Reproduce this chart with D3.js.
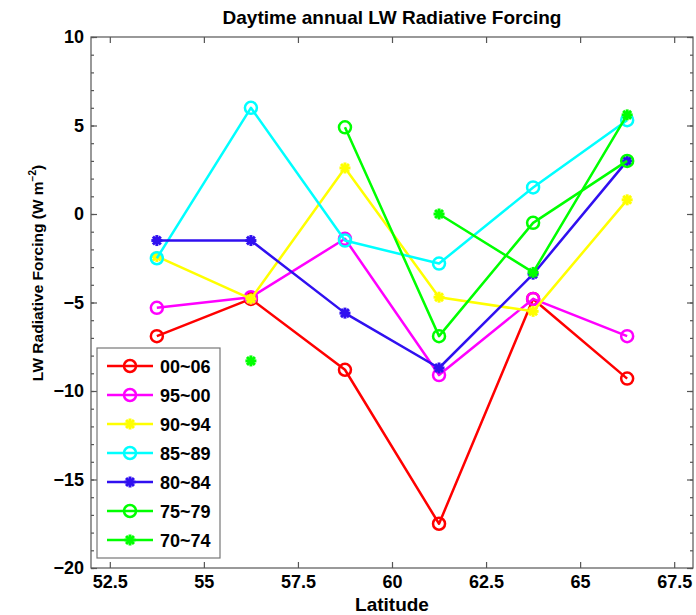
<!DOCTYPE html>
<html><head><meta charset="utf-8">
<script src="https://cdn.jsdelivr.net/npm/d3@7"></script>
<style>
body{margin:0;background:#fff}
text{font-family:"Liberation Sans",Arial,Helvetica,sans-serif;font-weight:bold;fill:#000}
</style>
</head><body><svg id="chart" width="696" height="615"></svg>
<script>
// ---- data ----
const latitudes = [53.75, 56.25, 58.75, 61.25, 63.75, 66.25];
const seriesNames = ["00~06", "95~00", "90~94", "85~89", "80~84", "75~79", "70~74"];
const s00_06 = [-6.9, -4.8, -8.8, -17.5, -4.8, -9.3];
const s95_00 = [-5.3, -4.7, -1.4, -9.1, -4.8, -6.9];
const s90_94 = [-2.4, -4.8, 2.6, -4.7, -5.5, 0.8];
const s85_89 = [-2.5, 6.0, -1.5, -2.8, 1.5, 5.3];
const s80_84 = [-1.5, -1.5, -5.6, -8.7, -3.4, 3.0];
const s75_79 = [null, null, 4.9, -6.9, -0.5, 3.0];
const s70_74 = [null, -8.3, null, 0.0, -3.3, 5.6];
const seriesValues = [s00_06, s95_00, s90_94, s85_89, s80_84, s75_79, s70_74];
const seriesColors = ["#ff0000", "#ff00ff", "#ffff00", "#00ffff", "#3010f0", "#00ff00", "#00ff00"];
const seriesMarkers = ["circle", "circle", "star", "circle", "star", "circle", "star"];
const xTicks = [52.5, 55, 57.5, 60, 62.5, 65, 67.5];
const yTicks = [-20, -15, -10, -5, 0, 5, 10];
const yMinorTicks = d3.range(-20, 11, 1);

// ---- layout ----
const svg = d3.select("#chart");
const L = 91, R = 693, T = 37, B = 568;
const x = d3.scaleLinear().domain([52, 68]).range([L, R]);
const y = d3.scaleLinear().domain([-20, 10]).range([B, T]);
const axisColor = "#555";

// frame
svg.append("rect").attr("x", L).attr("y", T).attr("width", R - L).attr("height", B - T)
  .attr("fill", "none").attr("stroke", axisColor).attr("stroke-width", 1.2);

const fmtX = d => String(d);
const fmtY = d => d < 0 ? "\u2212" + Math.abs(d) : String(d);

function styleAxis(g, showLabels) {
  g.select(".domain").remove();
  g.selectAll(".tick line").attr("stroke", axisColor).attr("stroke-width", 1.2);
  g.selectAll(".tick text").attr("fill", "#000").style("font-size", "18px").style("font-weight", "bold")
    .style("font-family", '"Liberation Sans",Arial,sans-serif');
  if (!showLabels) g.selectAll(".tick text").remove();
}

// minor y ticks
svg.append("g").attr("transform", `translate(${L},0)`)
  .call(d3.axisLeft(y).tickValues(yMinorTicks).tickSize(-3).tickFormat(""))
  .call(g => styleAxis(g, false));
svg.append("g").attr("transform", `translate(${R},0)`)
  .call(d3.axisRight(y).tickValues(yMinorTicks).tickSize(-3).tickFormat(""))
  .call(g => styleAxis(g, false));
// major axes
svg.append("g").attr("transform", `translate(${L},0)`)
  .call(d3.axisLeft(y).tickValues(yTicks).tickSize(-6).tickPadding(7).tickFormat(fmtY))
  .call(g => styleAxis(g, true));
svg.append("g").attr("transform", `translate(${R},0)`)
  .call(d3.axisRight(y).tickValues(yTicks).tickSize(-6).tickFormat(""))
  .call(g => styleAxis(g, false));
svg.append("g").attr("transform", `translate(0,${B})`)
  .call(d3.axisBottom(x).tickValues(xTicks).tickSize(-6).tickPadding(7).tickFormat(fmtX))
  .call(g => styleAxis(g, true));
svg.append("g").attr("transform", `translate(0,${T})`)
  .call(d3.axisTop(x).tickValues(xTicks).tickSize(-6).tickFormat(""))
  .call(g => styleAxis(g, false));

// title and axis labels
svg.append("text").attr("x", (L + R) / 2).attr("y", 24).attr("text-anchor", "middle")
  .style("font-size", "19px").text("Daytime annual LW Radiative Forcing");
svg.append("text").attr("x", (L + R) / 2).attr("y", 611).attr("text-anchor", "middle")
  .style("font-size", "19px").text("Latitude");
const yl = svg.append("text").attr("transform", "translate(43,273) rotate(-90)")
  .attr("text-anchor", "middle").style("font-size", "15.5px");
yl.append("tspan").text("LW Radiative Forcing (W m");
yl.append("tspan").attr("dy", -7).style("font-size", "10px").text("\u22122");
yl.append("tspan").attr("dy", 7).text(")");

// markers
function drawMarker(g, type, color, cx, cy) {
  if (type === "circle") {
    g.append("circle").attr("cx", cx).attr("cy", cy).attr("r", 6)
      .attr("fill", "none").attr("stroke", color).attr("stroke-width", 2.5);
  } else {
    const s = 5.5;
    [[s, 0], [0, s], [s * 0.72, s * 0.72], [s * 0.72, -s * 0.72]].forEach(([dx, dy]) => {
      g.append("line").attr("x1", cx - dx).attr("y1", cy - dy).attr("x2", cx + dx).attr("y2", cy + dy)
        .attr("stroke", color).attr("stroke-width", 3);
    });
    g.append("circle").attr("cx", cx).attr("cy", cy).attr("r", 3.5).attr("fill", color);
  }
}

// series
const line = d3.line().defined(d => d.v !== null).x(d => x(d.lat)).y(d => y(d.v));
seriesValues.forEach((vals, i) => {
  const pts = latitudes.map((lat, j) => ({lat, v: vals[j]}));
  const g = svg.append("g");
  g.append("path").datum(pts).attr("d", line).attr("fill", "none")
    .attr("stroke", seriesColors[i]).attr("stroke-width", 2.5).attr("stroke-linejoin", "round");
  pts.filter(d => d.v !== null).forEach(d => drawMarker(g, seriesMarkers[i], seriesColors[i], x(d.lat), y(d.v)));
});

// legend
const lg = svg.append("g");
lg.append("rect").attr("x", 97).attr("y", 348).attr("width", 123).attr("height", 210)
  .attr("fill", "#fff").attr("stroke", "#777").attr("stroke-width", 1.2);
seriesNames.forEach((name, i) => {
  const cy = 366 + i * 29;
  lg.append("line").attr("x1", 107).attr("x2", 153).attr("y1", cy).attr("y2", cy)
    .attr("stroke", seriesColors[i]).attr("stroke-width", 2.5);
  drawMarker(lg, seriesMarkers[i], seriesColors[i], 130, cy);
  lg.append("text").attr("x", 160).attr("y", cy + 6.5).style("font-size", "18px").text(name);
});
</script>
</body></html>
